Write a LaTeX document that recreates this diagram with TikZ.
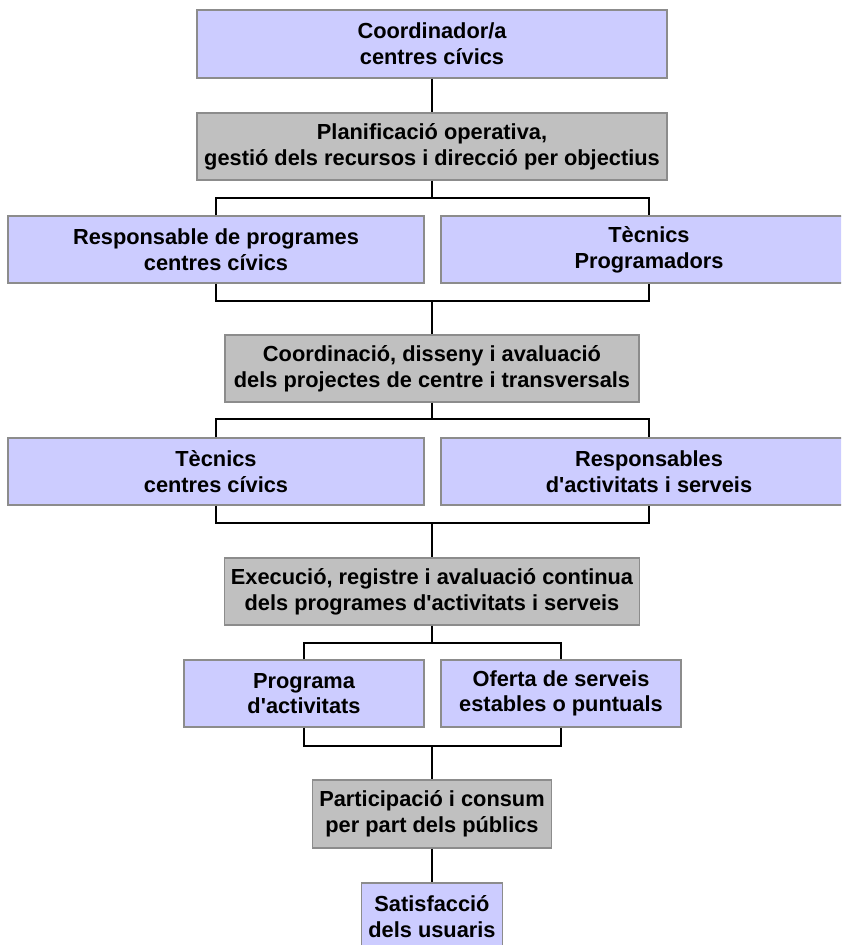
\documentclass[tikz,border=0pt]{standalone}
\usepackage{fontspec}
\setmainfont{Liberation Sans}
\newcommand\apo{\XeTeXglyph\XeTeXcharglyph"0027\relax}
\definecolor{lav}{HTML}{CCCCFF}
\definecolor{gry}{HTML}{C0C0C0}
\definecolor{edge}{HTML}{8C8C8C}
\tikzset{
  box/.style={draw=edge, line width=1.2pt, align=center, inner sep=0pt,
    font=\bfseries\fontsize{21.8}{25.7}\selectfont, text=black},
  lbox/.style={box, fill=lav},
  gbox/.style={box, fill=gry},
  link/.style={draw=black, line width=1.3pt}
}
\begin{document}
\begin{tikzpicture}[x=1pt,y=-1pt]
\path[use as bounding box, clip] (0,0) rectangle (841,945);
\fill[white] (0,0) rectangle (841,945);
\node[lbox, minimum width=470pt, minimum height=68pt] (b1) at (432,44) {Coordinador/a\\centres cívics};
\node[gbox, minimum width=470pt, minimum height=67pt] (b2) at (432,146.5) {Planificació operativa,\\gestió dels recursos i direcció per objectius};
\node[lbox, minimum width=416pt, minimum height=67pt] (b3l) at (216,249.5) {Responsable de programes\\centres cívics};
\node[lbox, minimum width=416pt, minimum height=67pt] (b3r) at (649,249.5) {Tècnics\\Programadors};
\node[gbox, minimum width=414pt, minimum height=67pt] (b4) at (432,368.5) {Coordinació, disseny i avaluació\\dels projectes de centre i transversals};
\node[lbox, minimum width=416pt, minimum height=67pt] (b5l) at (216,471.5) {Tècnics\\centres cívics};
\node[lbox, minimum width=416pt, minimum height=67pt] (b5r) at (649,471.5) {Responsables\\d\apo activitats i serveis};
\node[gbox, minimum width=415pt, minimum height=67pt] (b6) at (432,591.5) {Execució, registre i avaluació continua\\dels programes d\apo activitats i serveis};
\node[lbox, minimum width=240pt, minimum height=67pt] (b7l) at (304,693.5) {Programa\\d\apo activitats};
\node[lbox, minimum width=240pt, minimum height=67pt] (b7r) at (561,693.5) {Oferta de serveis\\estables o puntuals};
\node[gbox, minimum width=239pt, minimum height=68pt] (b8) at (432,814) {Participació i consum\\per part dels públics};
\node[lbox, minimum width=141pt, minimum height=67pt] (b9) at (432,916.5) {Satisfacció\\dels usuaris};
\coordinate (j1) at (432,198);
\coordinate (j2) at (432,301);
\coordinate (j3) at (432,419);
\coordinate (j4) at (432,523);
\coordinate (j5) at (432,643);
\coordinate (j6) at (432,746);
\draw[link] (b1) -- (b2);
\draw[link] (b2) -- (j1);
\draw[link] (b3l.north) |- (j1) -| (b3r.north);
\draw[link] (b3l.south) |- (j2) -| (b3r.south);
\draw[link] (j2) -- (b4);
\draw[link] (b4) -- (j3);
\draw[link] (b5l.north) |- (j3) -| (b5r.north);
\draw[link] (b5l.south) |- (j4) -| (b5r.south);
\draw[link] (j4) -- (b6);
\draw[link] (b6) -- (j5);
\draw[link] (b7l.north) |- (j5) -| (b7r.north);
\draw[link] (b7l.south) |- (j6) -| (b7r.south);
\draw[link] (j6) -- (b8);
\draw[link] (b8) -- (b9);
\end{tikzpicture}
\end{document}
